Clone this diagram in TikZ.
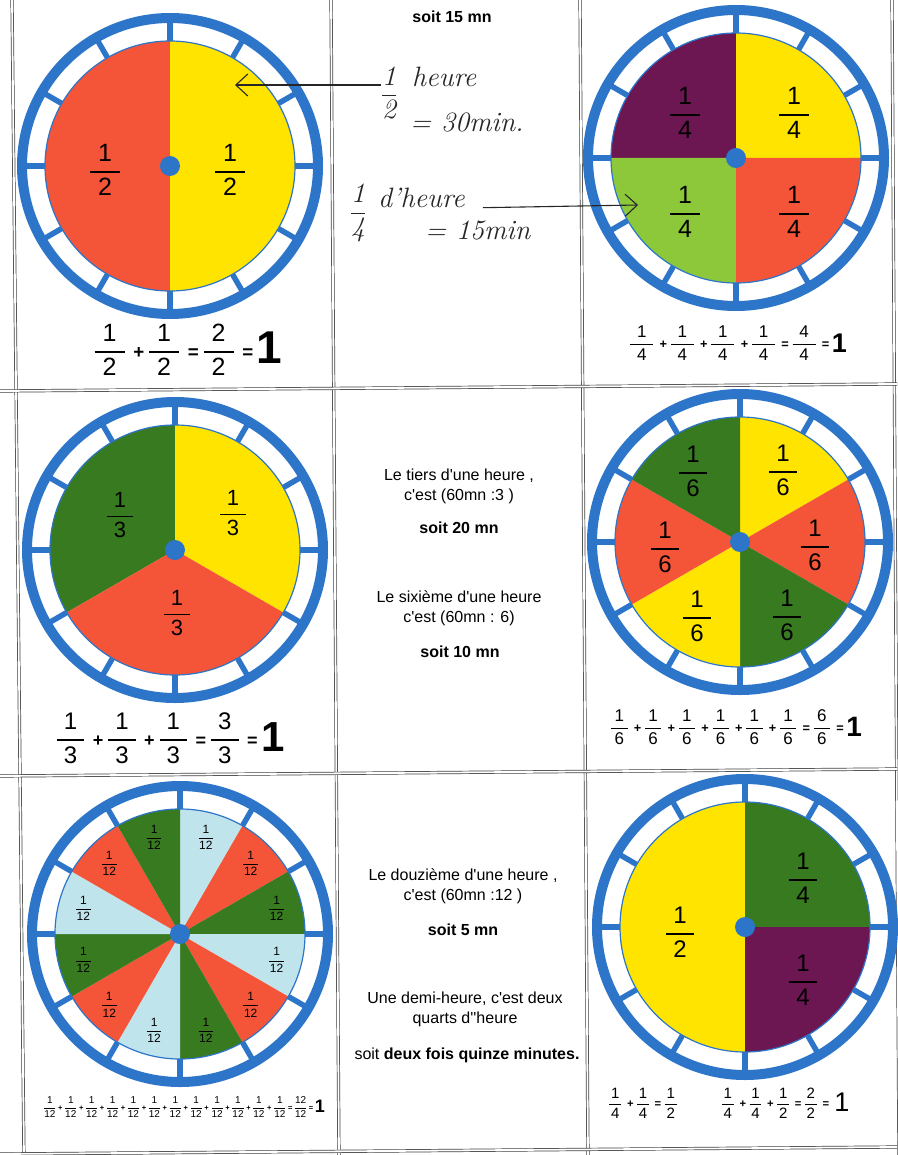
\documentclass[tikz,border=0pt]{standalone}
\usepackage{amsmath}
\usepackage{fontspec}
\setmainfont{Liberation Sans}[Ligatures=TeXOff]
\usetikzlibrary{arrows.meta, calc}

\definecolor{clockblue}{RGB}{45,117,200}
\definecolor{clockred}{RGB}{244,84,56}
\definecolor{clockyellow}{RGB}{255,228,0}
\definecolor{clockgreen}{RGB}{56,122,32}
\definecolor{clockpurple}{RGB}{108,22,82}
\definecolor{clocklime}{RGB}{140,200,58}
\definecolor{clocksky}{RGB}{192,228,236}

% padding of the fraction bar, spacing round + and =
\newcommand{\fp}{.32em}
\newcommand{\opl}{.3em}
\newcommand{\opr}{.15em}
\newcommand{\fr}[2]{$\genfrac{}{}{.07em}{0}{\mbox{\hspace{\fp}#1\hspace{\fp}}}{\mbox{\hspace{\fp}#2\hspace{\fp}}}$}
\newcommand{\op}[1]{\hspace{\opl}\scalebox{.75}{\bfseries #1}\hspace{\opr}}
\newcommand{\one}[1]{\raisebox{-.22em}{\fontsize{#1}{#1}\selectfont\bfseries 1}}

\begin{document}
\begin{tikzpicture}[x=1pt, y=1pt,
  gridline/.style={draw=black!75, double=white, double distance=1.8pt, line width=0.7pt},
  rim/.style={draw=clockblue, line width=1.2pt},
  ring/.style={draw=clockblue, line width=10pt},
  tick/.style={draw=clockblue, line width=5.5pt},
  hub/.style={fill=clockblue},
  frac/.style={inner sep=0pt, font=\fontsize{25}{30}\selectfont},
  tinyfrac/.style={inner sep=0pt, font=\fontsize{12}{14}\selectfont},
  sum/.style={inner sep=0pt},
  note/.style={align=center, inner sep=1pt, font=\fontsize{16}{20}\selectfont},
  hand/.style={inner sep=0pt, text=black!85, font=\fontfamily{lmr}\itshape\fontsize{28}{30}\selectfont},
  handarrow/.style={-{Straight Barb[length=12pt, width=22pt]}, line width=1.1pt, black!85}
]
\useasboundingbox (0,0) rectangle (897,-1155);
\fill[white] (0,0) rectangle (897,-1155);

% table
\draw[gridline] (12,2) -- (24,-1160);
\draw[gridline] (331,2) -- (339,-1160);
\draw[gridline] (580,2) -- (588,-1160);
\draw[gridline] (892,2) -- (899,-1160);
\draw[gridline] (0,-391) -- (897,-384);
\draw[gridline] (0,-776) -- (897,-769);
\draw[gridline] (0,-1154) -- (897,-1147);

% clock centres
\coordinate (c1) at (170,-166);
\coordinate (c2) at (736,-158);
\coordinate (c3) at (175,-550);
\coordinate (c4) at (740,-542);
\coordinate (c5) at (180,-934);
\coordinate (c6) at (745,-927);

% coloured parts
\foreach \c/\a/\b/\col in {c1/90/270/clockred, c1/-90/90/clockyellow,
    c2/90/180/clockpurple, c2/0/90/clockyellow, c2/180/270/clocklime, c2/270/360/clockred,
    c3/90/210/clockgreen, c3/-30/90/clockyellow, c3/210/330/clockred,
    c4/30/90/clockyellow, c4/-30/30/clockred, c4/-90/-30/clockgreen,
    c4/210/270/clockyellow, c4/150/210/clockred, c4/90/150/clockgreen,
    c6/90/270/clockyellow, c6/0/90/clockgreen, c6/-90/0/clockpurple}
  \fill[\col] (\c) -- ++(\a:125) arc[start angle=\a, end angle=\b, radius=125] -- cycle;

% twelfths
\foreach \k/\col in {0/clocksky, 1/clockred, 2/clockgreen, 3/clocksky, 4/clockred, 5/clockgreen,
    6/clocksky, 7/clockred, 8/clockgreen, 9/clocksky, 10/clockred, 11/clockgreen} {
  \pgfmathsetmacro\a{90-30*\k}
  \pgfmathsetmacro\b{\a-30}
  \pgfmathsetmacro\m{\a-15}
  \fill[\col] (c5) -- ++(\a:125) arc[start angle=\a, end angle=\b, radius=125] -- cycle;
  \node[tinyfrac] (d\k) at ($(c5)+(\m:100)$) {\renewcommand{\fp}{.05em}\fr{1}{12}};
}

% dial
\foreach \c in {c1,c2,c3,c4,c5,c6} {
  \draw[rim] (\c) circle[radius=125];
  \draw[ring] (\c) circle[radius=148];
  \foreach \a in {0,30,...,330}
    \draw[tick] ($(\c)+(\a:125)$) -- ($(\c)+(\a:144)$);
  \fill[hub] (\c) circle[radius=10];
}

% labels
\node[frac] (h1) at (105,-170) {\fr{1}{2}};
\node[frac] (h2) at (230,-170) {\fr{1}{2}};
\node[frac] (q1) at (685,-113) {\fr{1}{4}};
\node[frac] (q2) at (794,-113) {\fr{1}{4}};
\node[frac] (q3) at (685,-212) {\fr{1}{4}};
\node[frac] (q4) at (794,-212) {\fr{1}{4}};
\node[frac, font=\fontsize{22}{26}\selectfont] (t1) at (120,-515) {\fr{1}{3}};
\node[frac, font=\fontsize{22}{26}\selectfont] (t2) at (233,-513) {\fr{1}{3}};
\node[frac, font=\fontsize{22}{26}\selectfont] (t3) at (177,-613) {\fr{1}{3}};
\node[frac, font=\fontsize{24}{28}\selectfont] (s1) at (783,-470) {\fr{1}{6}};
\node[frac, font=\fontsize{24}{28}\selectfont] (s2) at (815,-545) {\fr{1}{6}};
\node[frac, font=\fontsize{24}{28}\selectfont] (s3) at (787,-615) {\fr{1}{6}};
\node[frac, font=\fontsize{24}{28}\selectfont] (s4) at (697,-616) {\fr{1}{6}};
\node[frac, font=\fontsize{24}{28}\selectfont] (s5) at (665,-547) {\fr{1}{6}};
\node[frac, font=\fontsize{24}{28}\selectfont] (s6) at (693,-471) {\fr{1}{6}};
\node[frac, font=\fontsize{24}{28}\selectfont] (m1) at (680,-932) {\fr{1}{2}};
\node[frac, font=\fontsize{24}{28}\selectfont] (m2) at (803,-878) {\fr{1}{4}};
\node[frac, font=\fontsize{24}{28}\selectfont] (m3) at (803,-980) {\fr{1}{4}};

% sums
\node[sum, font=\fontsize{25}{30}\selectfont] (eq1) at (188,-350)
  {\fr{1}{2}\op{+}\fr{1}{2}\op{=}\fr{2}{2}\op{=}\one{46}};
\node[sum, font=\fontsize{17}{20}\selectfont] (eq2) at (738,-343)
  {\renewcommand{\fp}{.4em}\fr{1}{4}\op{+}\fr{1}{4}\op{+}\fr{1}{4}\op{+}\fr{1}{4}\op{=}\fr{4}{4}\op{=}\one{27}};
\node[sum, font=\fontsize{24}{28}\selectfont] (eq3) at (170,-738)
  {\renewcommand{\fp}{.3em}\fr{1}{3}\op{+}\fr{1}{3}\op{+}\fr{1}{3}\op{=}\fr{3}{3}\op{=}\one{42}};
\node[sum, font=\fontsize{17}{20}\selectfont] (eq4) at (736,-727)
  {\renewcommand{\fp}{.2em}\fr{1}{6}\op{+}\fr{1}{6}\op{+}\fr{1}{6}\op{+}\fr{1}{6}\op{+}\fr{1}{6}\op{+}\fr{1}{6}\op{=}\fr{6}{6}\op{=}\one{28}};
\node[sum, font=\fontsize{10}{12}\selectfont] (eq5) at (184,-1107)
  {\renewcommand{\fp}{0em}\renewcommand{\opl}{.15em}\renewcommand{\opr}{.15em}%
   \fr{1}{12}\op{+}\fr{1}{12}\op{+}\fr{1}{12}\op{+}\fr{1}{12}\op{+}\fr{1}{12}\op{+}\fr{1}{12}\op{+}%
   \fr{1}{12}\op{+}\fr{1}{12}\op{+}\fr{1}{12}\op{+}\fr{1}{12}\op{+}\fr{1}{12}\op{+}\fr{1}{12}\op{=}\fr{12}{12}\op{=}\one{18}};
\node[sum, font=\fontsize{15}{18}\selectfont] (eq6a) at (643,-1103)
  {\renewcommand{\fp}{.12em}\fr{1}{4}\op{+}\fr{1}{4}\op{=}\fr{1}{2}};
\node[sum, font=\fontsize{15}{18}\selectfont] (eq6b) at (785,-1103)
  {\renewcommand{\fp}{.12em}\fr{1}{4}\op{+}\fr{1}{4}\op{+}\fr{1}{2}\op{=}\fr{2}{2}\op{=}\hspace{.2em}\raisebox{-.22em}{\fontsize{27}{27}\selectfont 1}};

% middle column
\node[note] (soit15) at (452,-17) {\bfseries soit 15 mn};
\node[note] (tiers) at (459,-486) {Le tiers d'une heure ,\\c'est (60mn :3 )};
\node[note] (soit20) at (459,-528) {\bfseries soit 20 mn};
\node[note] (sixieme) at (459,-608) {Le sixième d'une heure\\c'est (60mn : 6)};
\node[note] (soit10) at (460,-652) {\bfseries soit 10 mn};
\node[note] (douzieme) at (463,-886) {Le douzième d'une heure ,\\c'est (60mn :12 )};
\node[note] (soit5) at (463,-930) {\bfseries soit 5 mn};
\node[note] (demi) at (465,-1009) {Une demi-heure, c'est deux\\quarts d''heure};
\node[note] (quinze) at (467,-1055) {soit \textbf{deux fois quinze minutes.}};

% handwritten notes
\node[hand] (hf1) at (389,-93) {$\genfrac{}{}{1pt}{0}{\text{1}}{\text{2}}$};
\node[hand, anchor=base west] (hh1) at (412,-87) {heure};
\node[hand, anchor=base west] (hm1) at (410,-132) {= 30min.};
\node[hand] (hf2) at (358,-213) {$\genfrac{}{}{1pt}{0}{\text{1}}{\text{4}}$};
\node[hand, anchor=base west] (hh2) at (378,-208) {d'heure};
\node[hand, anchor=base west] (hm2) at (425,-240) {= 15min};
\coordinate (tip1) at (235,-85);
\coordinate (tip2) at (638,-205);
\draw[handarrow] (hf1.west |- tip1) -- (tip1);
\draw[handarrow, shorten <=18pt] (hh2.base east) -- (tip2);
\end{tikzpicture}
\end{document}
